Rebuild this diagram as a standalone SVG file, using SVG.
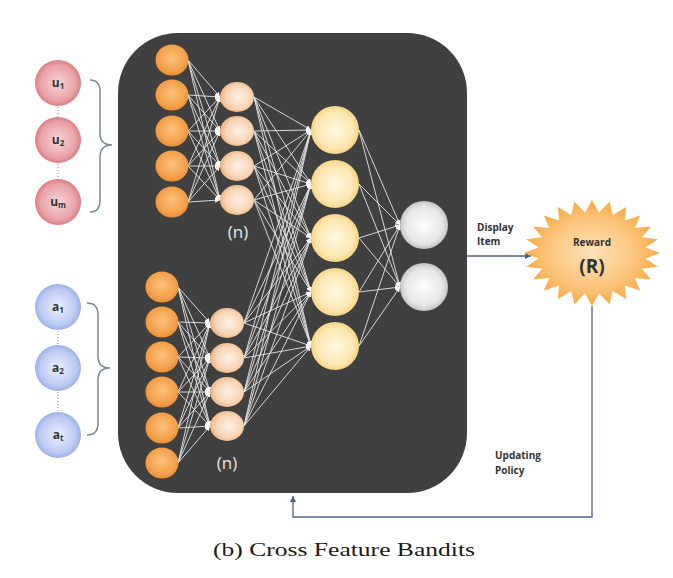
<svg xmlns="http://www.w3.org/2000/svg" width="673" height="578" viewBox="0 0 673 578">
<defs>
<radialGradient id="gOr" cx="50%" cy="45%" r="55%"><stop offset="0" stop-color="#fbc27c"/><stop offset="0.75" stop-color="#f5a04a"/><stop offset="1" stop-color="#e98e35"/></radialGradient>
<radialGradient id="gPe" cx="55%" cy="50%" r="55%"><stop offset="0" stop-color="#fdf1e8"/><stop offset="0.7" stop-color="#f8d4b4"/><stop offset="1" stop-color="#eeb27f"/></radialGradient>
<radialGradient id="gYe" cx="50%" cy="50%" r="55%"><stop offset="0" stop-color="#fff8e2"/><stop offset="0.7" stop-color="#fde7b0"/><stop offset="1" stop-color="#f3cc72"/></radialGradient>
<radialGradient id="gGr" cx="50%" cy="50%" r="55%"><stop offset="0" stop-color="#ffffff"/><stop offset="0.7" stop-color="#e6e6e6"/><stop offset="1" stop-color="#b8b8b8"/></radialGradient>
<radialGradient id="gPk" cx="50%" cy="50%" r="55%"><stop offset="0" stop-color="#f7d6d8"/><stop offset="0.7" stop-color="#eaa2a6"/><stop offset="1" stop-color="#d46e75"/></radialGradient>
<radialGradient id="gBl" cx="50%" cy="50%" r="55%"><stop offset="0" stop-color="#eaf0fd"/><stop offset="0.7" stop-color="#bccbf3"/><stop offset="1" stop-color="#8ea5e4"/></radialGradient>
<radialGradient id="gSt" cx="50%" cy="50%" r="55%"><stop offset="0" stop-color="#fde2b8"/><stop offset="0.6" stop-color="#fbc47a"/><stop offset="1" stop-color="#f6a132"/></radialGradient>
<marker id="ah" viewBox="0 0 6 6" refX="6" refY="3" markerWidth="5" markerHeight="5" markerUnits="userSpaceOnUse" orient="auto"><path d="M0,0 L6,3 L0,6 z" fill="#ffffff"/></marker>
<marker id="ab" viewBox="0 0 6 6" refX="6" refY="3" markerWidth="6" markerHeight="6" markerUnits="userSpaceOnUse" orient="auto"><path d="M0,0 L6,3 L0,6 z" fill="#4d5f80"/></marker>
<style>
.lbl{font-family:"Open Sans","Liberation Sans",sans-serif;font-weight:bold;fill:#333;}
.n{font-family:"Open Sans","Liberation Sans",sans-serif;font-size:17px;fill:#e4e4e4;}
.cap{font-family:"Liberation Serif","DejaVu Serif",serif;font-size:18px;fill:#1a1a1a;}
.c line{stroke:#e6e6e6;stroke-width:0.9;marker-end:url(#ah);}
.dot{stroke:#9a9a9a;stroke-width:1.2;stroke-dasharray:1 2;fill:none;}
.brace{stroke:#7b889c;stroke-width:1.5;fill:none;}
.fb{stroke:#55657f;stroke-width:1.3;fill:none;}
</style>
</defs>
<rect width="673" height="578" fill="#ffffff"/>
<rect id="network-box" x="118" y="33" width="349" height="460" rx="60" ry="60" fill="#404040"/>

<g id="connectors">
<g class="c">
<line x1="188" y1="60" x2="220" y2="97"/><line x1="188" y1="60" x2="220" y2="131"/><line x1="188" y1="60" x2="220" y2="166"/><line x1="188" y1="60" x2="220" y2="200"/>
<line x1="188" y1="95" x2="220" y2="97"/><line x1="188" y1="95" x2="220" y2="131"/><line x1="188" y1="95" x2="220" y2="166"/><line x1="188" y1="95" x2="220" y2="200"/>
<line x1="188" y1="131" x2="220" y2="97"/><line x1="188" y1="131" x2="220" y2="131"/><line x1="188" y1="131" x2="220" y2="166"/><line x1="188" y1="131" x2="220" y2="200"/>
<line x1="188" y1="166" x2="220" y2="97"/><line x1="188" y1="166" x2="220" y2="131"/><line x1="188" y1="166" x2="220" y2="166"/><line x1="188" y1="166" x2="220" y2="200"/>
<line x1="188" y1="202" x2="220" y2="97"/><line x1="188" y1="202" x2="220" y2="131"/><line x1="188" y1="202" x2="220" y2="166"/><line x1="188" y1="202" x2="220" y2="200"/>
<line x1="254" y1="97" x2="311" y2="130"/><line x1="254" y1="97" x2="311" y2="184"/><line x1="254" y1="97" x2="311" y2="238"/><line x1="254" y1="97" x2="311" y2="292"/><line x1="254" y1="97" x2="311" y2="346"/>
<line x1="254" y1="131" x2="311" y2="130"/><line x1="254" y1="131" x2="311" y2="184"/><line x1="254" y1="131" x2="311" y2="238"/><line x1="254" y1="131" x2="311" y2="292"/><line x1="254" y1="131" x2="311" y2="346"/>
<line x1="254" y1="166" x2="311" y2="130"/><line x1="254" y1="166" x2="311" y2="184"/><line x1="254" y1="166" x2="311" y2="238"/><line x1="254" y1="166" x2="311" y2="292"/><line x1="254" y1="166" x2="311" y2="346"/>
<line x1="254" y1="200" x2="311" y2="130"/><line x1="254" y1="200" x2="311" y2="184"/><line x1="254" y1="200" x2="311" y2="238"/><line x1="254" y1="200" x2="311" y2="292"/><line x1="254" y1="200" x2="311" y2="346"/>
<line x1="178" y1="287" x2="210" y2="323"/><line x1="178" y1="287" x2="210" y2="358"/><line x1="178" y1="287" x2="210" y2="392"/><line x1="178" y1="287" x2="210" y2="426"/>
<line x1="178" y1="322" x2="210" y2="323"/><line x1="178" y1="322" x2="210" y2="358"/><line x1="178" y1="322" x2="210" y2="392"/><line x1="178" y1="322" x2="210" y2="426"/>
<line x1="178" y1="357" x2="210" y2="323"/><line x1="178" y1="357" x2="210" y2="358"/><line x1="178" y1="357" x2="210" y2="392"/><line x1="178" y1="357" x2="210" y2="426"/>
<line x1="178" y1="392" x2="210" y2="323"/><line x1="178" y1="392" x2="210" y2="358"/><line x1="178" y1="392" x2="210" y2="392"/><line x1="178" y1="392" x2="210" y2="426"/>
<line x1="178" y1="428" x2="210" y2="323"/><line x1="178" y1="428" x2="210" y2="358"/><line x1="178" y1="428" x2="210" y2="392"/><line x1="178" y1="428" x2="210" y2="426"/>
<line x1="178" y1="463" x2="210" y2="323"/><line x1="178" y1="463" x2="210" y2="358"/><line x1="178" y1="463" x2="210" y2="392"/><line x1="178" y1="463" x2="210" y2="426"/>
<line x1="244" y1="323" x2="311" y2="130"/><line x1="244" y1="323" x2="311" y2="184"/><line x1="244" y1="323" x2="311" y2="238"/><line x1="244" y1="323" x2="311" y2="292"/><line x1="244" y1="323" x2="311" y2="346"/>
<line x1="244" y1="358" x2="311" y2="130"/><line x1="244" y1="358" x2="311" y2="184"/><line x1="244" y1="358" x2="311" y2="238"/><line x1="244" y1="358" x2="311" y2="292"/><line x1="244" y1="358" x2="311" y2="346"/>
<line x1="244" y1="392" x2="311" y2="130"/><line x1="244" y1="392" x2="311" y2="184"/><line x1="244" y1="392" x2="311" y2="238"/><line x1="244" y1="392" x2="311" y2="292"/><line x1="244" y1="392" x2="311" y2="346"/>
<line x1="244" y1="426" x2="311" y2="130"/><line x1="244" y1="426" x2="311" y2="184"/><line x1="244" y1="426" x2="311" y2="238"/><line x1="244" y1="426" x2="311" y2="292"/><line x1="244" y1="426" x2="311" y2="346"/>
<line x1="359" y1="130" x2="400" y2="225"/><line x1="359" y1="130" x2="400" y2="287"/>
<line x1="359" y1="184" x2="400" y2="225"/><line x1="359" y1="184" x2="400" y2="287"/>
<line x1="359" y1="238" x2="400" y2="225"/><line x1="359" y1="238" x2="400" y2="287"/>
<line x1="359" y1="292" x2="400" y2="225"/><line x1="359" y1="292" x2="400" y2="287"/>
<line x1="359" y1="346" x2="400" y2="225"/><line x1="359" y1="346" x2="400" y2="287"/>
</g>
<line class="fb" x1="467" y1="256" x2="531" y2="256" marker-end="url(#ab)"/>
<path class="fb" d="M592,306 L592,517 L293,517 L293,496" marker-end="url(#ab)"/>
<path class="dot" d="M58,107 L58,117 M58,164 L58,179"/>
<path class="dot" d="M58,331 L58,345 M58,392 L58,412"/>
<path class="brace" d="M90,80 Q100,80 100,92 L100,133 Q100,145 112,145 Q100,145 100,157 L100,200 Q100,212 90,212"/>
<path class="brace" d="M87,303 Q98,303 98,315 L98,356 Q98,368 110,368 Q98,368 98,380 L98,423 Q98,435 87,435"/>
</g>

<g id="user-features">
<g id="u1"><circle cx="58" cy="83" r="23" fill="url(#gPk)"/><text class="lbl" x="58" y="87" font-size="12" text-anchor="middle">u<tspan font-size="8" dy="2">1</tspan></text></g>
<g id="u2"><circle cx="58" cy="140" r="23" fill="url(#gPk)"/><text class="lbl" x="58" y="144" font-size="12" text-anchor="middle">u<tspan font-size="8" dy="2">2</tspan></text></g>
<g id="um"><circle cx="58" cy="202" r="23" fill="url(#gPk)"/><text class="lbl" x="58" y="206" font-size="12" text-anchor="middle">u<tspan font-size="8" dy="2">m</tspan></text></g>
</g>
<g id="item-features">
<g id="a1"><circle cx="58" cy="307" r="23" fill="url(#gBl)"/><text class="lbl" x="58" y="311" font-size="12" text-anchor="middle">a<tspan font-size="8" dy="2">1</tspan></text></g>
<g id="a2"><circle cx="58" cy="368" r="23" fill="url(#gBl)"/><text class="lbl" x="58" y="372" font-size="12" text-anchor="middle">a<tspan font-size="8" dy="2">2</tspan></text></g>
<g id="at"><circle cx="58" cy="435" r="23" fill="url(#gBl)"/><text class="lbl" x="58" y="439" font-size="12" text-anchor="middle">a<tspan font-size="8" dy="2">t</tspan></text></g>
</g>

<g id="top-input">
<ellipse cx="172" cy="60" rx="16.5" ry="15.5" fill="url(#gOr)"/>
<ellipse cx="172" cy="95" rx="16.5" ry="15.5" fill="url(#gOr)"/>
<ellipse cx="172" cy="131" rx="16.5" ry="15.5" fill="url(#gOr)"/>
<ellipse cx="172" cy="166" rx="16.5" ry="15.5" fill="url(#gOr)"/>
<ellipse cx="172" cy="202" rx="16.5" ry="15.5" fill="url(#gOr)"/>
</g>
<g id="top-hidden">
<ellipse cx="237" cy="97" rx="17" ry="15" fill="url(#gPe)"/>
<ellipse cx="237" cy="131" rx="17" ry="15" fill="url(#gPe)"/>
<ellipse cx="237" cy="166" rx="17" ry="15" fill="url(#gPe)"/>
<ellipse cx="237" cy="200" rx="17" ry="15" fill="url(#gPe)"/>
<text class="n" x="238" y="238" text-anchor="middle">(n)</text>
</g>
<g id="bottom-input">
<ellipse cx="162" cy="287" rx="16.5" ry="15.5" fill="url(#gOr)"/>
<ellipse cx="162" cy="322" rx="16.5" ry="15.5" fill="url(#gOr)"/>
<ellipse cx="162" cy="357" rx="16.5" ry="15.5" fill="url(#gOr)"/>
<ellipse cx="162" cy="392" rx="16.5" ry="15.5" fill="url(#gOr)"/>
<ellipse cx="162" cy="428" rx="16.5" ry="15.5" fill="url(#gOr)"/>
<ellipse cx="162" cy="463" rx="16.5" ry="15.5" fill="url(#gOr)"/>
</g>
<g id="bottom-hidden">
<ellipse cx="227" cy="323" rx="17" ry="15" fill="url(#gPe)"/>
<ellipse cx="227" cy="358" rx="17" ry="15" fill="url(#gPe)"/>
<ellipse cx="227" cy="392" rx="17" ry="15" fill="url(#gPe)"/>
<ellipse cx="227" cy="426" rx="17" ry="15" fill="url(#gPe)"/>
<text class="n" x="227" y="469" text-anchor="middle">(n)</text>
</g>
<g id="cross-layer">
<circle cx="335" cy="130" r="24" fill="url(#gYe)"/>
<circle cx="335" cy="184" r="24" fill="url(#gYe)"/>
<circle cx="335" cy="238" r="24" fill="url(#gYe)"/>
<circle cx="335" cy="292" r="24" fill="url(#gYe)"/>
<circle cx="335" cy="346" r="24" fill="url(#gYe)"/>
</g>
<g id="output-layer">
<circle cx="424" cy="225" r="24" fill="url(#gGr)"/>
<circle cx="424" cy="287" r="24" fill="url(#gGr)"/>
</g>

<g id="display-label">
<text class="lbl" x="477" y="231" font-size="10">Display</text>
<text class="lbl" x="477" y="245" font-size="10">Item</text>
</g>
<g id="reward">
<polygon transform="translate(592,253)" fill="url(#gSt)" points="68,0 53.5,5.4 65.7,13.7 49.9,15.7 58.9,26.5 42.8,25 48.1,37.5 32.9,32.5 34,45.9 20.7,37.9 17.6,51.2 7,40.6 0,53 -7,40.6 -17.6,51.2 -20.7,37.9 -34,45.9 -32.9,32.5 -48.1,37.5 -42.8,25 -58.9,26.5 -49.9,15.7 -65.7,13.7 -53.5,5.4 -68,0 -53.5,-5.4 -65.7,-13.7 -49.9,-15.7 -58.9,-26.5 -42.8,-25 -48.1,-37.5 -32.9,-32.5 -34,-45.9 -20.7,-37.9 -17.6,-51.2 -7,-40.6 0,-53 7,-40.6 17.6,-51.2 20.7,-37.9 34,-45.9 32.9,-32.5 48.1,-37.5 42.8,-25 58.9,-26.5 49.9,-15.7 65.7,-13.7 53.5,-5.4"/>
<text class="lbl" x="592" y="246" font-size="10" text-anchor="middle">Reward</text>
<text class="lbl" x="592" y="273" font-size="19" text-anchor="middle">(R)</text>
</g>
<g id="policy-label">
<text class="lbl" x="495" y="459" font-size="10">Updating</text>
<text class="lbl" x="495" y="474" font-size="10">Policy</text>
</g>
<text class="cap" x="213" y="556" textLength="262" lengthAdjust="spacingAndGlyphs">(b) Cross Feature Bandits</text>
</svg>
